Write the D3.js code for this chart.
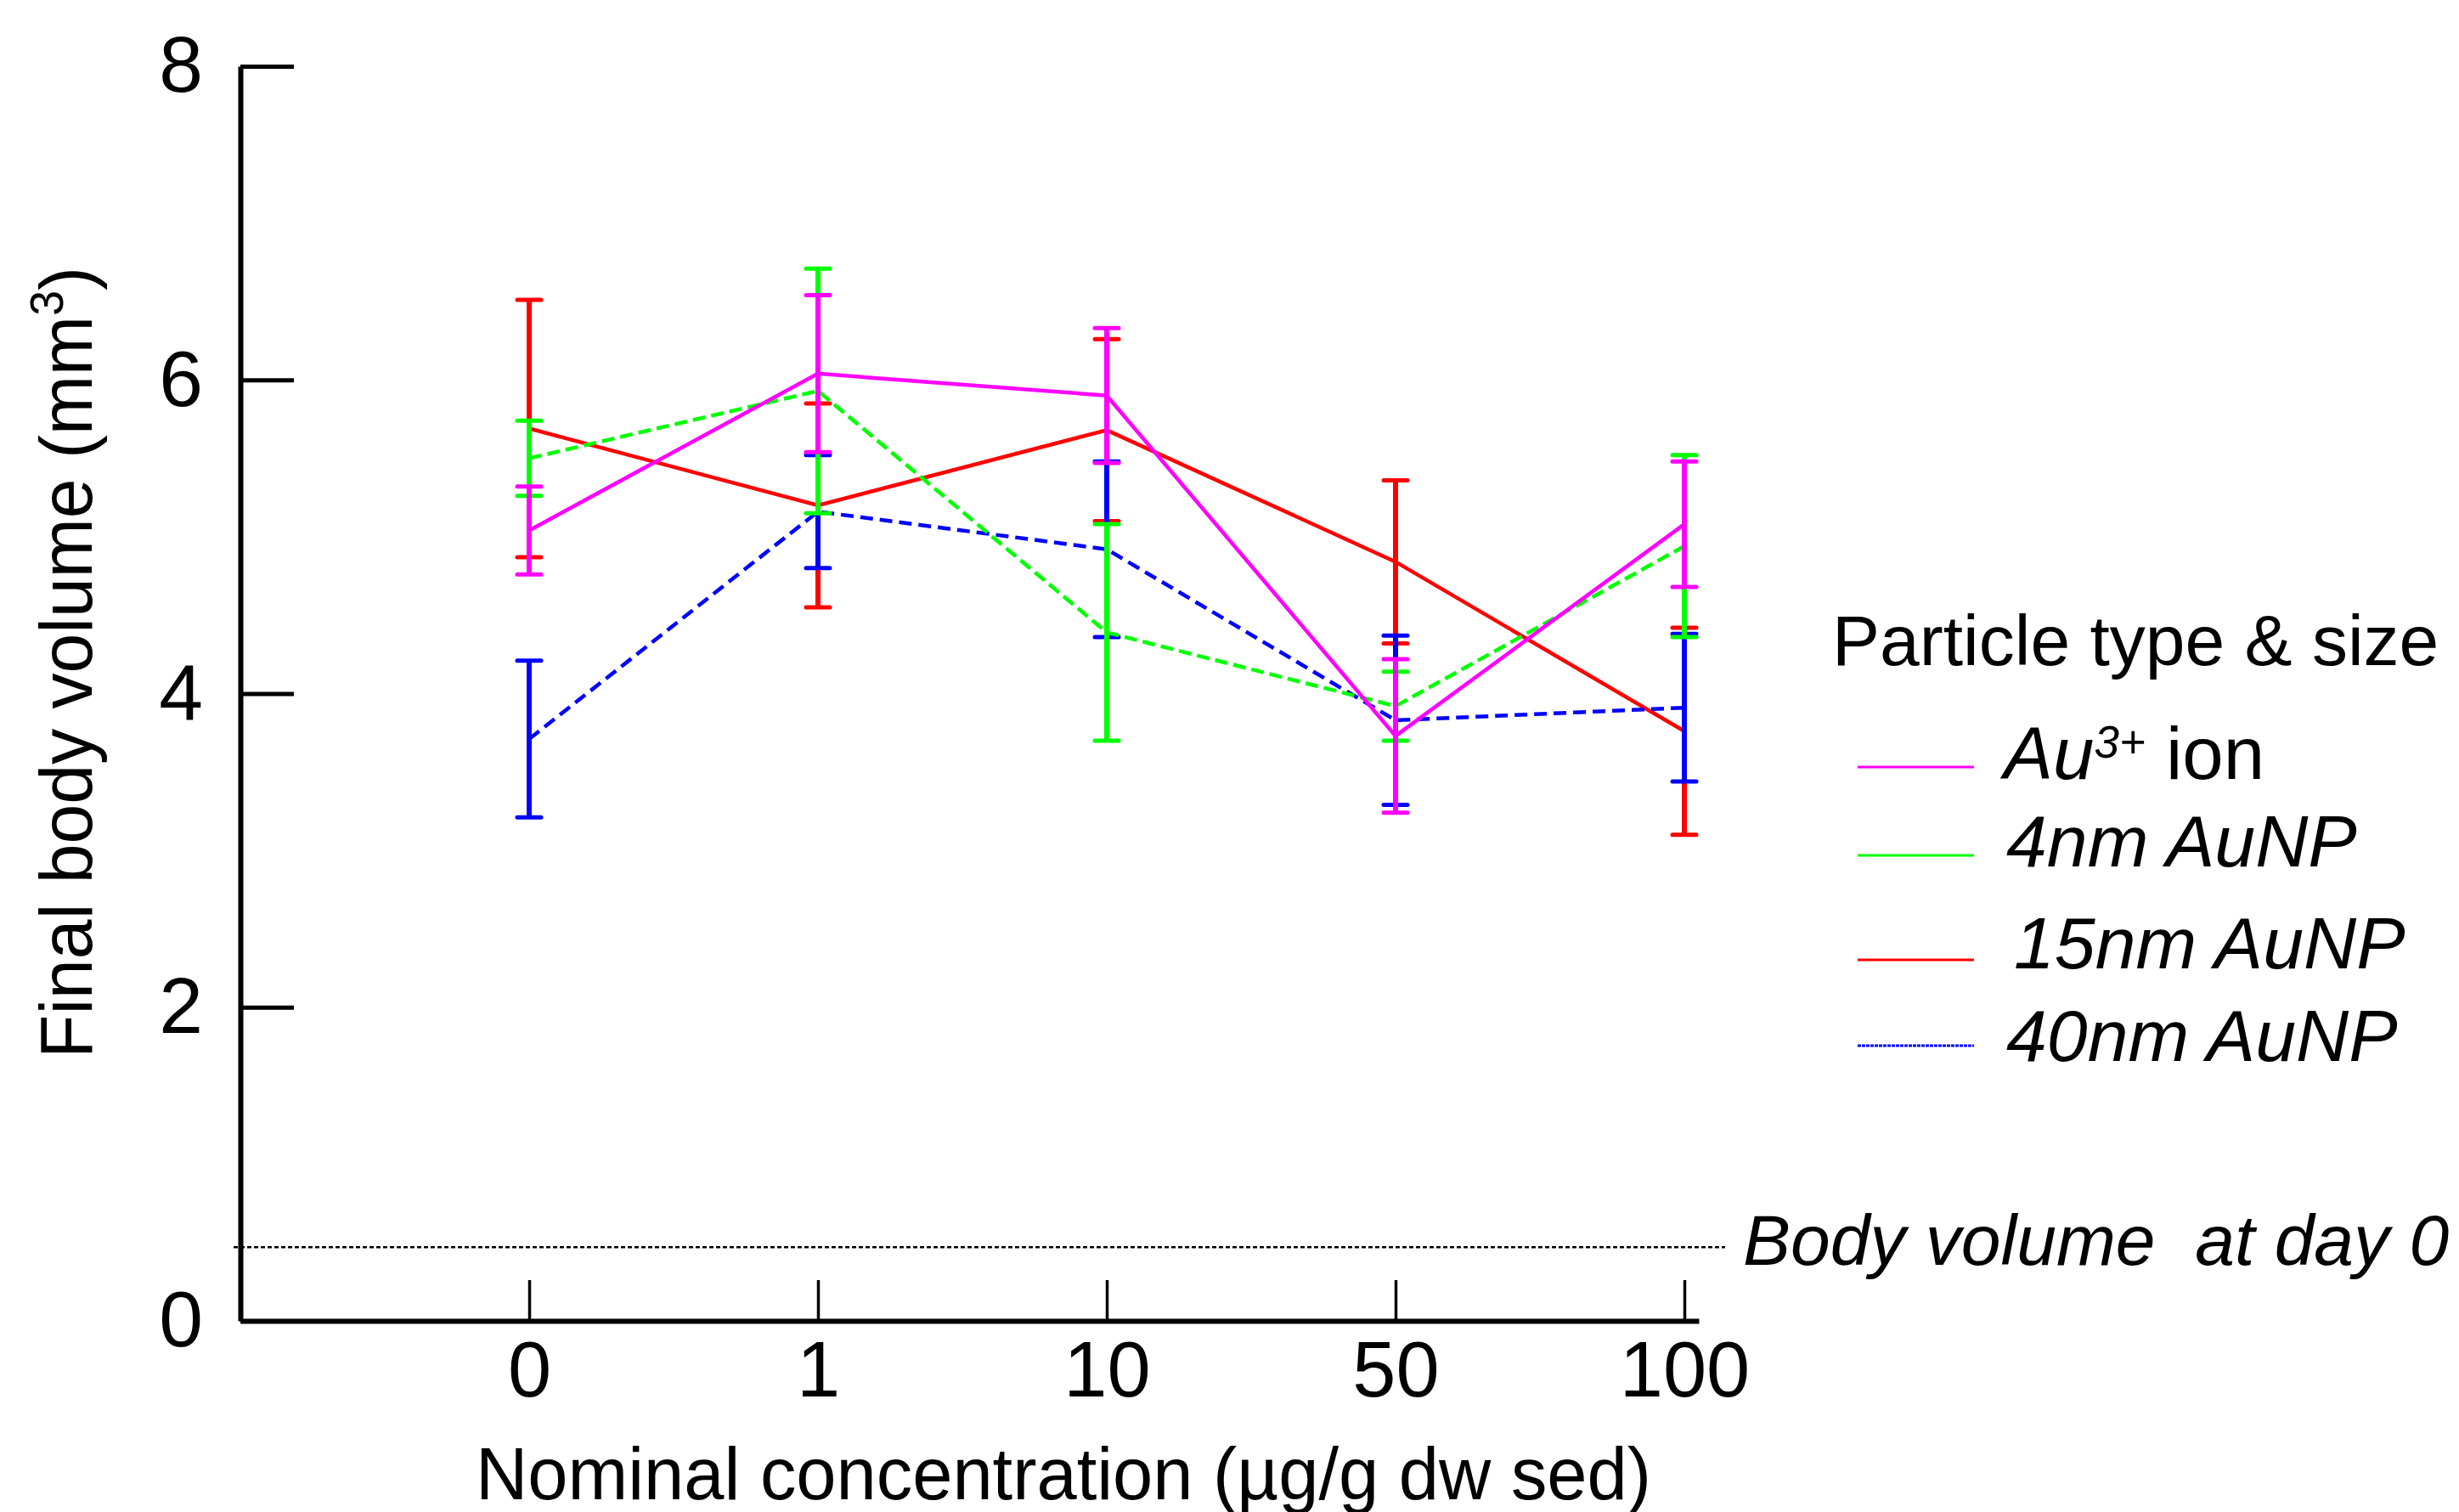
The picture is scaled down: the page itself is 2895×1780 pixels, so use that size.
<!DOCTYPE html>
<html>
<head>
<meta charset="utf-8">
<script src="https://cdn.jsdelivr.net/npm/d3@7"></script>
<style>
  body { margin: 0; background: #fff; }
  svg { display: block; font-family: 'Liberation Sans', Arial, sans-serif; }
</style>
</head>
<body>
<script>
const concentrations = ['0', '1', '10', '50', '100'];

// means and error (half bar length) per concentration
const ionMean = [5.04, 6.04, 5.90, 3.73, 5.08];
const ionErr = [0.28, 0.50, 0.43, 0.49, 0.40];
const np4Mean = [5.50, 5.93, 4.39, 3.92, 4.94];
const np4Err = [0.24, 0.78, 0.69, 0.22, 0.58];
const np15Mean = [5.69, 5.20, 5.68, 4.84, 3.76];
const np15Err = [0.82, 0.65, 0.58, 0.52, 0.66];
const np40Mean = [3.71, 5.16, 4.92, 3.83, 3.91];
const np40Err = [0.50, 0.36, 0.56, 0.54, 0.47];

const yTicks = [0, 2, 4, 6, 8];
const dayZeroVolume = 0.47;

const width = 2895, height = 1780;

const svg = d3.select('body')
  .append('svg')
  .attr('width', width)
  .attr('height', height);

const x = d3.scaleLinear()
  .domain([-1, 4.05])
  .range([283, 2000]);

const y = d3.scaleLinear()
  .domain([0, 8])
  .range([1555, 78]);

// axes
const xAxis = svg.append('g')
  .attr('transform', `translate(0,${y(0)})`)
  .call(d3.axisBottom(x)
    .tickValues([0, 1, 2, 3, 4])
    .tickFormat(i => concentrations[i])
    .tickSizeInner(-48)
    .tickSizeOuter(0)
    .tickPadding(24));
xAxis.select('.domain').attr('stroke-width', 6);
xAxis.selectAll('.tick line').attr('stroke-width', 3.5);
xAxis.selectAll('.tick text')
  .attr('font-size', 92)
  .attr('font-family', "'Liberation Sans', Arial, sans-serif")
  .attr('fill', '#000');

const yAxis = svg.append('g')
  .attr('transform', `translate(${x(-1)},0)`)
  .call(d3.axisLeft(y)
    .tickValues(yTicks)
    .tickSizeInner(-63)
    .tickSizeOuter(0)
    .tickPadding(44));
yAxis.select('.domain').attr('stroke-width', 6);
yAxis.selectAll('.tick line').attr('stroke-width', 5);
yAxis.selectAll('.tick text')
  .attr('font-size', 93)
  .attr('font-family', "'Liberation Sans', Arial, sans-serif")
  .attr('fill', '#000');

// axis titles
const yTitle = svg.append('text')
  .attr('transform', 'translate(108,780) rotate(-90)')
  .attr('text-anchor', 'middle')
  .attr('font-size', 88)
  .attr('textLength', 932)
  .attr('lengthAdjust', 'spacingAndGlyphs');
yTitle.append('tspan').text('Final body volume (mm');
yTitle.append('tspan').attr('font-size', 56).attr('dy', -34).text('3');
yTitle.append('tspan').attr('dy', 34).text(')');

svg.append('text')
  .attr('x', 560)
  .attr('y', 1765)
  .attr('font-size', 88)
  .attr('textLength', 1384)
  .attr('lengthAdjust', 'spacingAndGlyphs')
  .text('Nominal concentration (µg/g dw sed)');

// body volume at day 0 reference line
svg.append('line')
  .attr('x1', 275)
  .attr('x2', 2031)
  .attr('y1', y(dayZeroVolume))
  .attr('y2', y(dayZeroVolume))
  .attr('stroke', '#000')
  .attr('stroke-width', 2.5)
  .attr('stroke-dasharray', '5,3');

svg.append('text')
  .attr('x', 2052)
  .attr('y', 1489)
  .attr('font-size', 84)
  .attr('font-style', 'italic')
  .style('white-space', 'pre')
  .text('Body volume  at day 0');

// series, drawn bottom to top: red, blue, green, magenta
const series = [
  { mean: np15Mean, err: np15Err, color: '#ff0000', dash: null },
  { mean: np40Mean, err: np40Err, color: '#0000ff', dash: '15,8' },
  { mean: np4Mean, err: np4Err, color: '#00ff00', dash: '15,7' },
  { mean: ionMean, err: ionErr, color: '#ff00ff', dash: null }
];

const line = d3.line()
  .x((d, i) => x(i))
  .y(d => y(d));

series.forEach(s => {
  const g = svg.append('g');

  g.selectAll('line.bar')
    .data(s.mean)
    .join('line')
    .attr('class', 'bar')
    .attr('x1', (d, i) => x(i))
    .attr('x2', (d, i) => x(i))
    .attr('y1', (d, i) => y(d + s.err[i]))
    .attr('y2', (d, i) => y(d - s.err[i]))
    .attr('stroke', s.color)
    .attr('stroke-width', 6);

  const caps = s.mean.flatMap((d, i) => [[i, d + s.err[i]], [i, d - s.err[i]]]);
  g.selectAll('line.cap')
    .data(caps)
    .join('line')
    .attr('class', 'cap')
    .attr('x1', d => x(d[0]) - 14)
    .attr('x2', d => x(d[0]) + 14)
    .attr('y1', d => y(d[1]))
    .attr('y2', d => y(d[1]))
    .attr('stroke', s.color)
    .attr('stroke-width', 5)
    .attr('stroke-linecap', 'round');

  g.append('path')
    .attr('d', line(s.mean))
    .attr('fill', 'none')
    .attr('stroke', s.color)
    .attr('stroke-width', 4.5)
    .attr('stroke-dasharray', s.dash);
});

// legend
svg.append('text')
  .attr('x', 2157)
  .attr('y', 783)
  .attr('font-size', 84)
  .text('Particle type & size');

const legendItems = [
  { color: '#ff00ff', dash: null, ly: 903, ty: 917, tx: 2359 },
  { color: '#00ff00', dash: null, ly: 1007, ty: 1020, tx: 2362 },
  { color: '#ff0000', dash: null, ly: 1130, ty: 1140, tx: 2371 },
  { color: '#0000ff', dash: '4,1', ly: 1231, ty: 1249, tx: 2362 }
];

const legend = svg.append('g');

legend.selectAll('line')
  .data(legendItems)
  .join('line')
  .attr('x1', 2187)
  .attr('x2', 2324)
  .attr('y1', d => d.ly)
  .attr('y2', d => d.ly)
  .attr('stroke', d => d.color)
  .attr('stroke-width', 3)
  .attr('stroke-dasharray', d => d.dash);

const ionText = legend.append('text')
  .attr('x', legendItems[0].tx)
  .attr('y', legendItems[0].ty)
  .attr('font-size', 87);
ionText.append('tspan').attr('font-style', 'italic').text('Au');
ionText.append('tspan').attr('font-style', 'italic').attr('font-size', 53).attr('dy', -25).text('3+');
ionText.append('tspan').attr('dy', 25).text(' ion');

const npLabels = ['4nm AuNP', '15nm AuNP', '40nm AuNP'];
legend.selectAll('text.np')
  .data(npLabels)
  .join('text')
  .attr('class', 'np')
  .attr('x', (d, i) => legendItems[i + 1].tx)
  .attr('y', (d, i) => legendItems[i + 1].ty)
  .attr('font-size', 86)
  .attr('font-style', 'italic')
  .text(d => d);
</script>
</body>
</html>
